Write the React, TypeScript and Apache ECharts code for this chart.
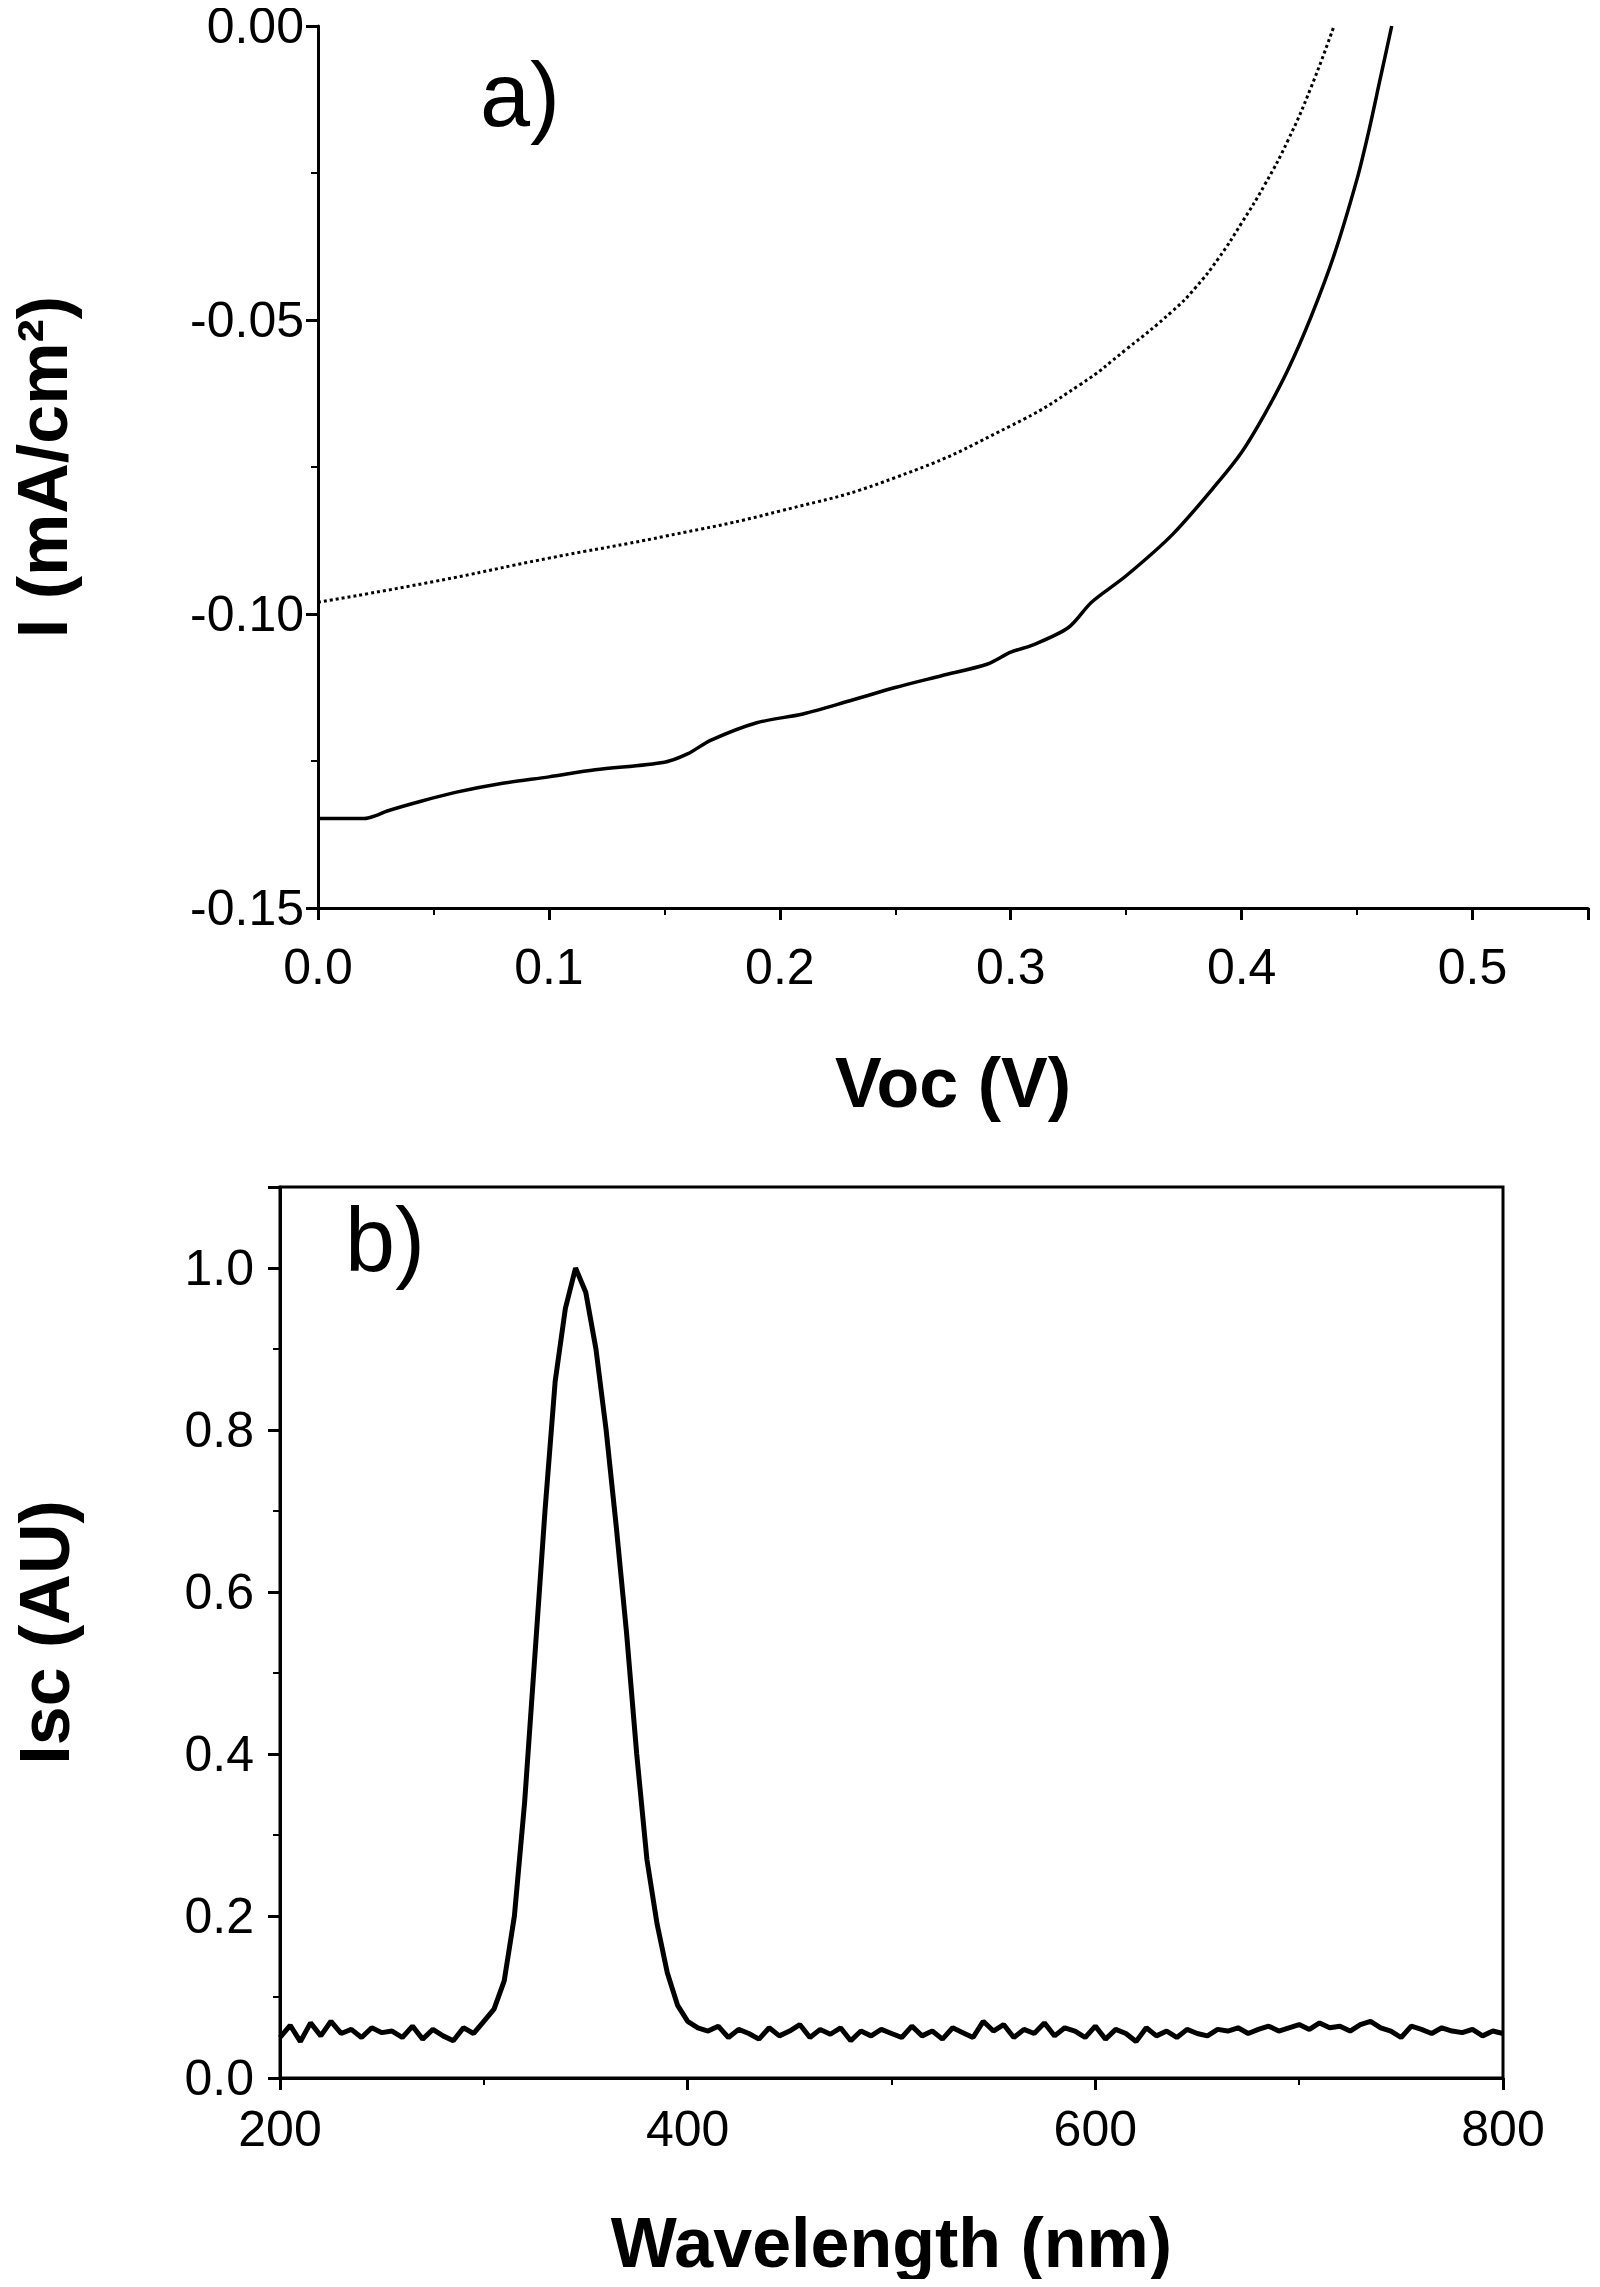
import React, { useEffect, useRef } from "react";
import * as echarts from "echarts";

// panel a: I-V curves
const voltsDotted = [0, 0.05, 0.1, 0.15, 0.2, 0.25, 0.3, 0.33, 0.35, 0.37, 0.38, 0.39, 0.4, 0.41, 0.42, 0.43, 0.44];
const currentDotted = [-0.098, -0.0945, -0.0905, -0.0868, -0.0825, -0.0768, -0.068, -0.061, -0.055, -0.0485, -0.0445, -0.0395, -0.0335, -0.027, -0.0195, -0.0105, 0];
const voltsSolid = [0, 0.02, 0.025, 0.03, 0.045, 0.06, 0.08, 0.1, 0.12, 0.15, 0.16, 0.17, 0.19, 0.21, 0.23, 0.25, 0.27, 0.29, 0.3, 0.31, 0.325, 0.335, 0.35, 0.37, 0.39, 0.4, 0.41, 0.42, 0.43, 0.44, 0.45, 0.455, 0.46, 0.465];
const currentSolid = [-0.1348, -0.1348, -0.1343, -0.1335, -0.1318, -0.1303, -0.1288, -0.1277, -0.1265, -0.1252, -0.1238, -0.1215, -0.1185, -0.117, -0.1148, -0.1125, -0.1105, -0.1085, -0.1065, -0.1052, -0.1023, -0.098, -0.0935, -0.0865, -0.0775, -0.0725, -0.066, -0.0585, -0.0495, -0.039, -0.026, -0.018, -0.009, 0];

// panel b: photocurrent spectrum
const waveB = [
  200, 205, 210, 215, 220, 225, 230, 235, 240, 245, 250, 255, 260, 265, 270, 275, 280, 285, 290, 295,
  300, 305, 310, 315, 320, 325, 330, 335, 340, 345, 350, 355, 360, 365, 370, 375, 380, 385, 390, 395,
  400, 405, 410, 415, 420, 425, 430, 435, 440, 445, 450, 455, 460, 465, 470, 475, 480, 485, 490, 495,
  500, 505, 510, 515, 520, 525, 530, 535, 540, 545, 550, 555, 560, 565, 570, 575, 580, 585, 590, 595,
  600, 605, 610, 615, 620, 625, 630, 635, 640, 645, 650, 655, 660, 665, 670, 675, 680, 685, 690, 695,
  700, 705, 710, 715, 720, 725, 730, 735, 740, 745, 750, 755, 760, 765, 770, 775, 780, 785, 790, 795, 800,
];
const iscB = [
  0.05, 0.065, 0.045, 0.068, 0.052, 0.07, 0.055, 0.06, 0.05, 0.062, 0.056, 0.058, 0.05, 0.064, 0.048, 0.06, 0.052, 0.046, 0.062, 0.055,
  0.07, 0.085, 0.12, 0.2, 0.34, 0.52, 0.7, 0.86, 0.95, 1.0, 0.97, 0.9, 0.8, 0.68, 0.55, 0.4, 0.27, 0.19, 0.13, 0.09,
  0.07, 0.062, 0.058, 0.064, 0.05, 0.06, 0.055, 0.048, 0.062, 0.052, 0.058, 0.066, 0.05, 0.06, 0.054, 0.062, 0.046, 0.058, 0.052, 0.06,
  0.055, 0.05, 0.064, 0.052, 0.058, 0.048, 0.062, 0.056, 0.05, 0.07, 0.058, 0.066, 0.05, 0.06, 0.055, 0.068, 0.052, 0.062, 0.058, 0.05,
  0.064, 0.048, 0.06, 0.055, 0.045, 0.062, 0.052, 0.058, 0.05, 0.06, 0.055, 0.052, 0.06, 0.058, 0.062, 0.055, 0.06, 0.064, 0.058, 0.062,
  0.066, 0.06, 0.068, 0.062, 0.064, 0.058, 0.066, 0.07, 0.062, 0.058, 0.05, 0.064, 0.06, 0.055, 0.062, 0.058, 0.056, 0.06, 0.052, 0.058, 0.055,
];

const font = "Arial, 'Liberation Sans', sans-serif";
const axisLine = { onZero: false, lineStyle: { color: "#000", width: 3 } };
const tickStyle = { show: true, inside: false, length: 12, lineStyle: { color: "#000", width: 3 } };
const minorStyle = { show: true, splitNumber: 2, length: 7, lineStyle: { color: "#000", width: 2 } };
const label = (digits: number, margin: number) => ({
  color: "#000",
  fontSize: 50,
  fontFamily: font,
  margin,
  showMaxLabel: false,
  formatter: (v: number) => v.toFixed(digits),
});
const nameStyle = { color: "#000", fontSize: 70, fontWeight: "bold" as const, fontFamily: font };

const App = () => {
  const ref = useRef<HTMLDivElement>(null);

  useEffect(() => {
    if (!ref.current) return;
    const chart = echarts.init(ref.current, null, { renderer: "svg" });
    chart.setOption({
      animation: false,
      backgroundColor: "#fff",
      grid: [
        { left: 316, right: 12, top: 26, height: 882 },
        { left: 280, right: 97, top: 1187, height: 891, show: true, borderColor: "#000", borderWidth: 3 },
      ],
      xAxis: [
        {
          gridIndex: 0, type: "value", min: 0, max: 0.55, interval: 0.1,
          axisLine, axisTick: tickStyle, minorTick: minorStyle, splitLine: { show: false },
          axisLabel: label(1, 34),
          name: "Voc (V)", nameLocation: "middle", nameGap: 140, nameTextStyle: nameStyle,
        },
        {
          gridIndex: 1, type: "value", min: 200, max: 800, interval: 200,
          axisLine, axisTick: tickStyle, minorTick: minorStyle, splitLine: { show: false },
          axisLabel: { ...label(0, 26), showMaxLabel: true },
          name: "Wavelength (nm)", nameLocation: "middle", nameGap: 130, nameTextStyle: nameStyle,
        },
      ],
      yAxis: [
        {
          gridIndex: 0, type: "value", min: -0.15, max: 0, interval: 0.05,
          axisLine, axisTick: tickStyle, minorTick: minorStyle, splitLine: { show: false },
          axisLabel: { ...label(2, 14), showMaxLabel: true },
          name: "I (mA/cm²)", nameLocation: "middle", nameGap: 240, nameTextStyle: nameStyle,
        },
        {
          gridIndex: 1, type: "value", min: 0, max: 1.1, interval: 0.2,
          axisLine, axisTick: tickStyle, minorTick: minorStyle, splitLine: { show: false },
          axisLabel: label(1, 26),
          name: "Isc (AU)", nameLocation: "middle", nameGap: 200, nameTextStyle: nameStyle,
        },
      ],
      graphic: [
        { type: "text", left: 480, top: 50, style: { text: "a)", fontSize: 90, fontFamily: font, fill: "#000" } },
        { type: "text", left: 345, top: 1195, style: { text: "b)", fontSize: 90, fontFamily: font, fill: "#000" } },
      ],
      series: [
        {
          type: "line", xAxisIndex: 0, yAxisIndex: 0, showSymbol: false, smooth: true,
          lineStyle: { color: "#000", width: 3, type: [3, 3] },
          data: voltsDotted.map((v, i) => [v, currentDotted[i]]),
        },
        {
          type: "line", xAxisIndex: 0, yAxisIndex: 0, showSymbol: false, smooth: 0.3,
          lineStyle: { color: "#000", width: 3.5 },
          data: voltsSolid.map((v, i) => [v, currentSolid[i]]),
        },
        {
          type: "line", xAxisIndex: 1, yAxisIndex: 1, showSymbol: false,
          lineStyle: { color: "#000", width: 5 },
          data: waveB.map((w, i) => [w, iscB[i]]),
        },
      ],
    });
    return () => chart.dispose();
  }, []);

  return <div ref={ref} style={{ width: 1600, height: 2287, margin: -8 }} />;
};

export default App;
